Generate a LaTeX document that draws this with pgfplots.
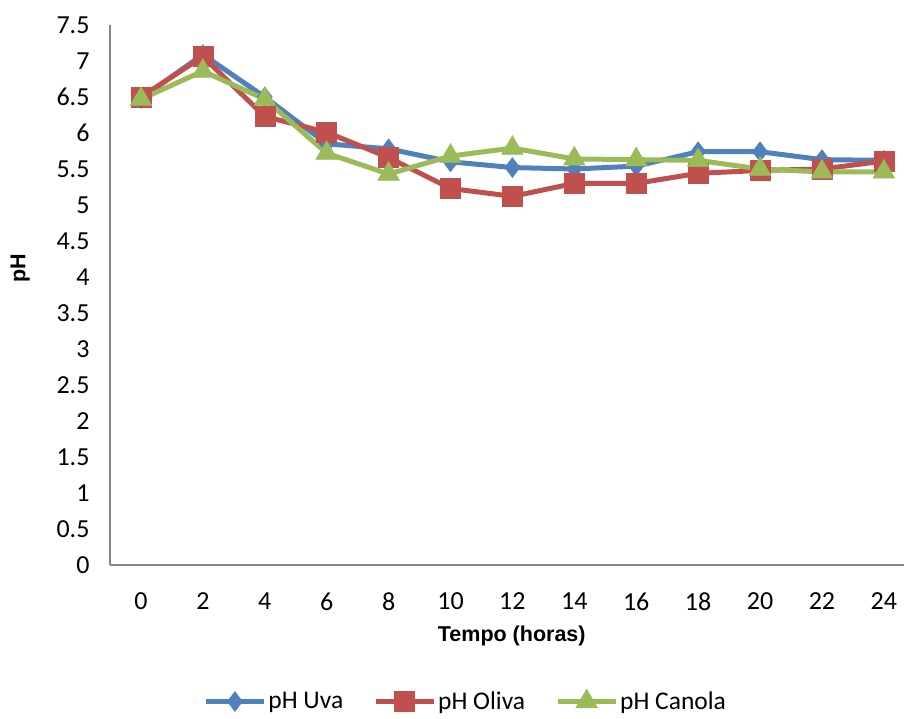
\documentclass[border=0pt]{standalone}
\usepackage{fontspec}
\setmainfont{Carlito}
\newfontfamily\arialfont{Liberation Sans}
\usepackage{pgfplots}
\pgfplotsset{compat=1.18}
\definecolor{cuva}{HTML}{4F81BD}
\definecolor{coliva}{HTML}{C0504D}
\definecolor{ccanola}{HTML}{9BBB59}
\definecolor{caxis}{HTML}{868686}
\begin{document}
\begin{tikzpicture}
\path[use as bounding box] (-110pt,-153pt) rectangle (794pt,565pt);
\begin{axis}[
  at={(0pt,0pt)}, anchor=south west,
  scale only axis, width=794pt, height=540pt,
  xmin=-1, xmax=24.65, ymin=0, ymax=7.5,
  axis lines*=left,
  axis line style={draw=caxis, line width=1.5pt},
  xtick={0,2,...,24}, ytick={0,0.5,...,7.5},
  major tick length=0pt,
  /pgf/number format/assume math mode=true,
  yticklabel style={/pgf/number format/fixed, /pgf/number format/precision=1, xshift=-17pt},
  tick label style={font=\fontsize{26}{30}\selectfont},
  xticklabel style={yshift=-24pt},
  xlabel={\arialfont\bfseries Tempo (horas)},
  ylabel={\arialfont\bfseries pH},
  xlabel style={font=\fontsize{21.5}{25}\selectfont, at={(axis description cs:0.506,-0.131)}, anchor=center},
  ylabel style={font=\fontsize{21.5}{25}\selectfont, at={(axis description cs:-0.113,0.55)}, anchor=center},
  clip=false,
  legend columns=-1,
  legend style={draw=none, fill=none, at={(axis description cs:0.448,-0.252)}, anchor=center,
    font=\fontsize{25.5}{29}\selectfont, /tikz/every even column/.append style={column sep=28pt}},
  legend image code/.code={\draw[mark repeat=2, mark phase=2] plot coordinates {(0pt,0pt) (29pt,0pt) (58pt,0pt)};},
  every axis plot/.append style={line width=5pt, mark options={solid, line width=0.5pt}},
]
\addplot[color=cuva, mark=diamond*, mark size=10pt] coordinates {
(0,6.48) (2,7.09) (4,6.5) (6,5.85) (8,5.78) (10,5.6) (12,5.52) (14,5.5) (16,5.54) (18,5.74) (20,5.74) (22,5.63) (24,5.62)};
\addlegendentry{pH Uva}
\addplot[color=coliva, mark=square*, mark size=10pt] coordinates {
(0,6.5) (2,7.06) (4,6.23) (6,6.01) (8,5.66) (10,5.23) (12,5.12) (14,5.3) (16,5.3) (18,5.44) (20,5.48) (22,5.5) (24,5.61)};
\addlegendentry{pH Oliva}
\addplot[color=ccanola, mark=triangle*, mark size=12.5pt] coordinates {
(0,6.47) (2,6.86) (4,6.47) (6,5.72) (8,5.43) (10,5.68) (12,5.79) (14,5.64) (16,5.63) (18,5.62) (20,5.5) (22,5.46) (24,5.46)};
\addlegendentry{pH Canola}
\end{axis}
\end{tikzpicture}
\end{document}
